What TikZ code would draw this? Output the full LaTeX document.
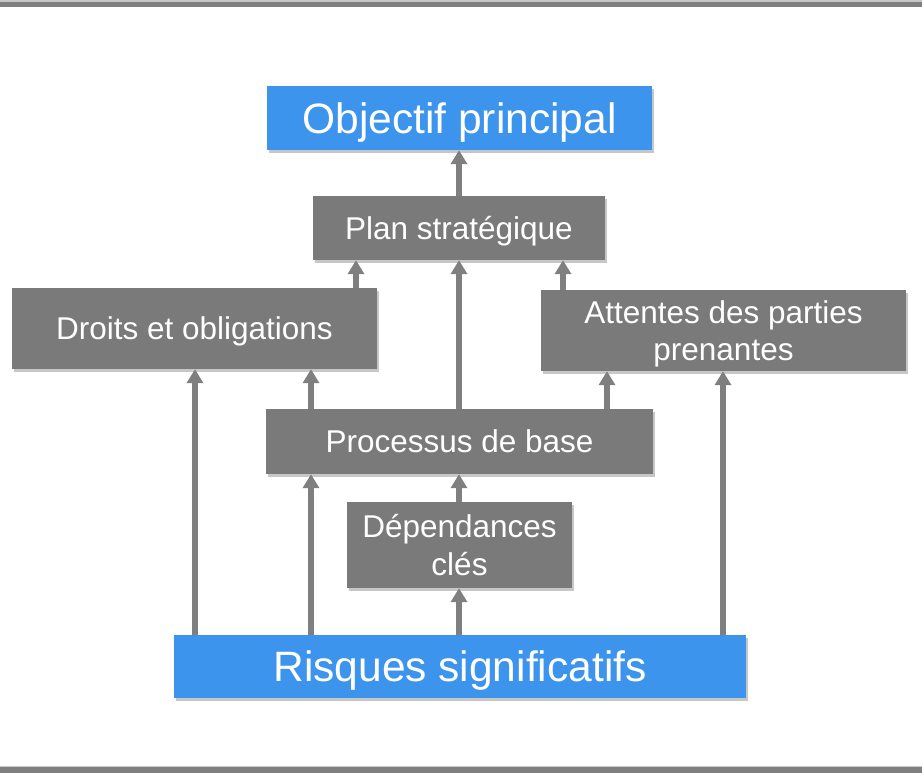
\documentclass[tikz,border=0pt]{standalone}
\usepackage{fontspec}
\setmainfont{Liberation Sans}
\usetikzlibrary{arrows.meta,shadows}
\definecolor{bblue}{HTML}{3D94EC}
\definecolor{bgray}{HTML}{7A7A7A}
\definecolor{agray}{HTML}{7F7F7F}
\definecolor{lgray}{HTML}{C8C8C8}
\tikzset{
  box/.style={fill=bgray, text=white, inner sep=0pt,
    drop shadow={shadow xshift=2pt, shadow yshift=-3pt, opacity=0.22, fill=black}},
  bluebox/.style={box, fill=bblue},
  big/.style={font=\fontsize{42.5}{46}\selectfont, text height=30.4pt, text depth=0pt},
  small/.style={font=\fontsize{31.5}{37}\selectfont, text height=22.6pt, text depth=0pt},
  twoline/.style={font=\fontsize{31.5}{37.5}\selectfont, text height=0pt, text depth=15pt},
  arr/.style={draw=agray, line width=5.5pt, -{Triangle[width=16pt,length=14pt]}}
}
\newcommand{\twol}[2]{\begin{tabular}[t]{@{}c@{}}#1\\#2\end{tabular}}
\begin{document}
\begin{tikzpicture}[x=1pt,y=-1pt]
\useasboundingbox (0,0) rectangle (922,773);
% frame bands
\fill[lgray] (0,0.5) rectangle (922,2);
\fill[agray] (0,2) rectangle (922,7);
\fill[lgray] (0,765.5) rectangle (922,767);
\fill[agray] (0,767) rectangle (922,773);
% nodes
\node[bluebox, big, minimum width=385pt, minimum height=64pt] (obj) at (459.5,118) {Objectif principal};
\node[box, small, minimum width=292pt, minimum height=64pt] (plan) at (459,228) {Plan stratégique};
\node[box, small, minimum width=365pt, minimum height=81pt] (droits) at (194.5,328.5) {Droits et obligations};
\node[box, twoline, minimum width=365pt, minimum height=81pt] (att) at (723.5,330.5) {\twol{Attentes des parties}{prenantes}};
\node[box, small, minimum width=387pt, minimum height=65pt] (proc) at (459.5,441.5) {Processus de base};
\node[box, twoline, minimum width=225pt, minimum height=86pt] (dep) at (459.5,545) {\twol{Dépendances}{clés}};
\node[bluebox, big, minimum width=572pt, minimum height=63pt] (risk) at (460,666.5) {Risques significatifs};
% x positions
\coordinate (xa) at (195,0);
\coordinate (xb) at (311,0);
\coordinate (xc) at (356,0);
\coordinate (xm) at (459,0);
\coordinate (xd) at (563,0);
\coordinate (xe) at (607,0);
\coordinate (xf) at (723,0);
% arrows
\draw[arr] (plan.north -| xm) -- (obj.south -| xm);
\draw[arr] (droits.north -| xc) -- (plan.south -| xc);
\draw[arr] (proc.north -| xm) -- (plan.south -| xm);
\draw[arr] (att.north -| xd) -- (plan.south -| xd);
\draw[arr] (proc.north -| xb) -- (droits.south -| xb);
\draw[arr] (proc.north -| xe) -- (att.south -| xe);
\draw[arr] (risk.north -| xa) -- (droits.south -| xa);
\draw[arr] (risk.north -| xb) -- (proc.south -| xb);
\draw[arr] (dep.north -| xm) -- (proc.south -| xm);
\draw[arr] (risk.north -| xm) -- (dep.south -| xm);
\draw[arr] (risk.north -| xf) -- (att.south -| xf);
\end{tikzpicture}
\end{document}
